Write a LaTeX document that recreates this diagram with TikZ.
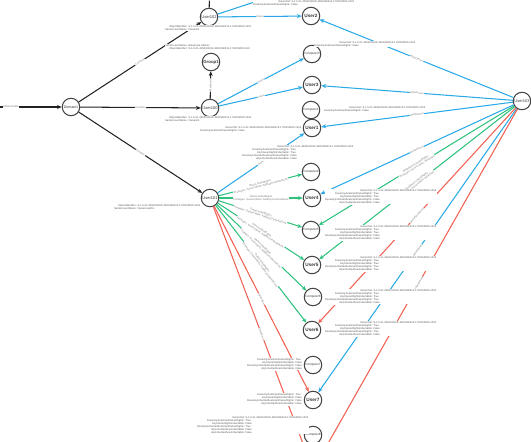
\documentclass[tikz,border=0pt]{standalone}
\usepackage{fontspec}
\setmainfont{Liberation Sans}
\usetikzlibrary{arrows.meta}
\definecolor{eblue}{HTML}{2AA9E6}
\definecolor{egreen}{HTML}{2EC27E}
\definecolor{ered}{HTML}{F26052}
\definecolor{eblack}{HTML}{222222}
\definecolor{nodeline}{HTML}{444444}
\definecolor{lbl}{HTML}{7A7A7A}
\definecolor{txt}{HTML}{555555}
\newcommand\sid{S-1-5-21-4092016032-2601860315-1733152505-}
\newcommand\props[5]{%
  \node[pk] (#1k) at (#2,#3) {#4};
  \node[pv] (#1v) at (#2,#3) {#5};}
\newcommand\fivekeys{OwnerSid:\\DoesAnyAceGrantOwnerRights:\\AnyOwnerRightsInheritable:\\DoesAnyInheritedAceGrantOwnerRights:\\AnyInheritedAcesInheritable:}
\newcommand\fourkeys{DoesAnyAceGrantOwnerRights:\\AnyOwnerRightsInheritable:\\DoesAnyInheritedAceGrantOwnerRights:\\AnyInheritedAcesInheritable:}
\tikzset{
  gnode/.style={circle, draw=nodeline, line width=1pt, fill=white, minimum size=17.5pt, inner sep=0pt, text=black!78},
  unode/.style={gnode, font=\fontsize{4.7}{5}\selectfont\bfseries},
  mnode/.style={gnode, font=\fontsize{4}{5}\selectfont},
  cnode/.style={gnode, font=\fontsize{3.1}{4}\selectfont},
  lnk/.style={line width=1.05pt, -{Stealth[length=4.8pt,width=4pt]}},
  lk/.style={lnk, draw=eblack},
  lb/.style={lnk, draw=eblue},
  lg/.style={lnk, draw=egreen},
  lr/.style={lnk, draw=ered},
  elab/.style={sloped, midway, fill=white, inner sep=0.4pt, text=lbl, font=\fontsize{2.6}{3}\selectfont, align=center},
  pk/.style={anchor=north east, align=right, fill=white, inner sep=0.3pt, text=txt, font=\fontsize{2.6}{3.1}\selectfont},
  pv/.style={anchor=north west, align=left, fill=white, inner sep=0.3pt, text=txt, font=\fontsize{2.6}{3.1}\selectfont}
}
\begin{document}
\begin{tikzpicture}[x=1pt,y=-1pt]
\useasboundingbox (0,0) rectangle (531,442);
\clip (0,0) rectangle (531,442);
% nodes
\node[cnode, font=\fontsize{3.6}{4}\selectfont] (dom) at (71,107) {Domain1};
\node[mnode] (u102) at (209,17) {User102};
\node[unode, font=\fontsize{4.3}{5}\selectfont\bfseries] (grp1) at (211,62) {Group1};
\node[mnode] (u100) at (210,108) {User100};
\node[mnode] (u101) at (210,198) {User101};
\node[mnode] (u103) at (522,101) {User103};
\node[unode] (u2) at (311,16) {User2};
\node[cnode] (c3) at (312,54) {Computer3};
\node[unode] (u3) at (312,85) {User3};
\node[cnode] (c1) at (311,110) {Computer1};
\node[unode] (u1) at (312,128) {User1};
\node[cnode] (c4) at (311,172) {Computer4};
\node[unode] (u4) at (312,198) {User4};
\node[cnode] (c5) at (311,230) {Computer5};
\node[unode] (u5) at (312,265) {User5};
\node[cnode] (c6) at (313,297) {Computer6};
\node[unode] (u6) at (312,330) {User6};
\node[cnode] (c7) at (313,365) {Computer7};
\node[unode] (u7) at (313,400) {User7};
\node[cnode] (c8) at (313,435) {Computer8};
\node[unode] (u8) at (313,470) {User8};
\node[cnode] (c2) at (312,-17) {Computer2};
\node[unode] (grp2) at (210,-29) {Group2};
\coordinate (west) at (-40,107);
% black edges
\draw[lk] (west) -- (dom) node[elab] {AllReachable};
\draw[lk] (dom) -- (u102) node[elab] {Contains};
\draw[lk] (dom) -- (u100) node[elab] {Contains};
\draw[lk] (dom) -- (u101) node[elab] {Contains};
\draw[lk] (u100) -- (grp1) node[elab] {MemberOf};
\draw[lk] (u102) -- (grp2) node[elab] {MemberOf};
% blue from User102 / User100
\draw[lb] (u102) -- (u2) node[elab] {Owns};
\draw[lb] (u102) -- (c2) node[elab] {Owns};
\draw[lb] (u100) -- (c3) node[elab] {Owns};
\draw[lb] (u100) -- (u3) node[elab] {Owns};
% User101
\draw[lb] (u101) -- (u1) node[elab] {Owns};
\draw[lg] (u101) -- (c4) node[elab] {OwnsLimitedRights\\Privileges: GenericWrite, AddKeyCredentialLink};
\draw[lg] (u101) -- (u4) node[elab] {OwnsLimitedRights\\Privileges: GenericWrite, AddKeyCredentialLink};
\draw[lg] (u101) -- (c5) node[elab] {OwnsLimitedRights\\Privileges: GenericWrite, AddKeyCredentialLink};
\draw[lg] (u101) -- (u5) node[elab] {OwnsLimitedRights\\Privileges: GenericWrite, AddKeyCredentialLink};
\draw[lg] (u101) -- (c6) node[elab] {OwnsLimitedRights\\Privileges: GenericWrite, AddKeyCredentialLink};
\draw[lg] (u101) -- (u6) node[elab] {OwnsLimitedRights\\Privileges: GenericWrite, AddKeyCredentialLink};
\draw[lr] (u101) -- (u7) node[elab] {OwnsRaw};
\draw[lr] (u101) -- (u8) node[elab] {OwnsRaw};
% User103
\draw[lb] (u103) -- (u2) node[elab] {WriteOwner};
\draw[lb] (u103) -- (u3) node[elab] {WriteOwner};
\draw[lb] (u103) -- (u1) node[elab] {WriteOwner};
\draw[lb] (u103) -- (u4) node[elab] {WriteOwner};
\draw[lg] (u103) -- (c5) node[elab] {WriteOwnerLimitedRights\\Privileges: GenericWrite, WriteDacl};
\draw[lg] (u103) -- (u5) node[elab] {WriteOwnerLimitedRights\\Privileges: GenericWrite, WriteDacl};
\draw[lr] (u103) -- (u6) node[elab] {WriteOwnerRaw};
\draw[lb] (u103) -- (u7) node[elab] {WriteOwner};
\draw[lr] (u103) -- (u8) node[elab] {WriteOwnerRaw};
% property blocks
\props{bn1}{188}{25}{ObjectIdentifier:\\SamAccountName:}{\sid1001\\Owner2A}
\props{bn2}{188}{44}{SamAccountName:\\ObjectIdentifier:}{Enterprise Admins\\\sid519}
\props{bn3}{188}{116}{ObjectIdentifier:\\SamAccountName:}{\sid1002\\Owner2A}
\props{bn4}{137}{204}{ObjectIdentifier:\\SamAccountName:}{\sid1002\\OwnerLowPriv}
\props{bt1}{291}{0}{OwnerSid:\\DoesAnyAceGrantOwnerRights:}{\sid1001\\False}
\props{bt2}{352}{41}{OwnerSid:\\DoesAnyAceGrantOwnerRights:}{\sid1002\\False}
\props{bt3}{362}{106}{OwnerSid:\\DoesAnyAceGrantOwnerRights:}{\sid1003\\False}
\props{bt4}{238}{126}{OwnerSid:\\DoesAnyAceGrantOwnerRights:}{\sid1003\\False}
\props{b5}{290}{145}{\fivekeys}{\sid1003\\True\\True\\False\\False}
\props{b6}{373}{189}{\fivekeys}{\sid1003\\True\\True\\False\\False}
\props{b7}{373}{225}{\fivekeys}{\sid1003\\True\\True\\False\\False}
\props{b8}{373}{256}{\fivekeys}{\sid1003\\True\\True\\True\\True}
\props{b9}{373}{289}{\fivekeys}{\sid1003\\True\\True\\True\\False}
\props{b10}{373}{321}{\fivekeys}{\sid1003\\True\\False\\True\\False}
\props{b11}{295}{358}{\fourkeys}{True\\False\\False\\False}
\props{b12}{295}{393}{\fourkeys}{True\\False\\False\\False}
\props{b13}{245}{416}{\fivekeys\\AnyInheritedAcesInheritable:}{\sid1002\\True\\False\\True\\False\\False}
\end{tikzpicture}
\end{document}
